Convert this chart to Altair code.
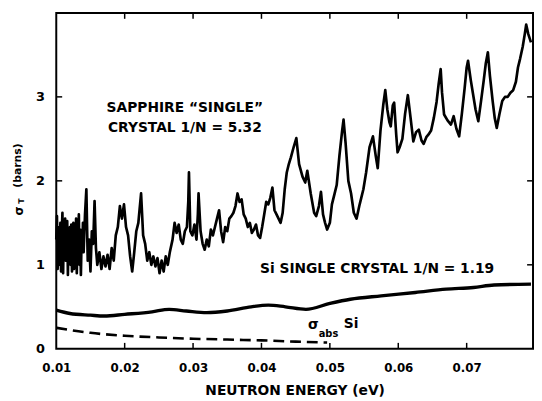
import altair as alt
import pandas as pd

# ---- data ----
sapphire_e = [0.0100,0.0101,0.0102,0.0103,0.0104,0.0105,0.0106,0.0107,0.0108,0.0109,
              0.0110,0.0111,0.0112,0.0113,0.0114,0.0115,0.0116,0.0117,0.0118,0.0119,
              0.0120,0.0121,0.0122,0.0123,0.0124,0.0125,0.0126,0.0127,0.0128,0.0129,
              0.0130,0.0131,0.0132,0.0133,0.0134,0.0135,0.0136,0.0137,0.0138,0.0139,
              0.0140,0.0142,0.0144,0.0146,0.0148,0.0150,0.0152,0.0154,0.0156,0.0158,
              0.0160,0.0163,0.0166,0.0169,0.0172,0.0175,0.0178,0.0181,0.0184,0.0187,
              0.0190,0.0193,0.0196,0.0199,0.0202,0.0205,0.0208,0.0211,0.0214,0.0217,
              0.0220,0.0224,0.0227,0.0230,0.0233,0.0236,0.0239,0.0242,0.0245,0.0248,
              0.0251,0.0254,0.0257,0.0260,0.0263,0.0266,0.0270,0.0273,0.0276,0.0279,
              0.0282,0.0285,0.0288,0.0291,0.0293,0.0294,0.0296,0.0299,0.0302,0.0305,
              0.0307,0.0308,0.0311,0.0314,0.0317,0.0320,0.0323,0.0326,0.0329,0.0332,
              0.0335,0.0338,0.0341,0.0344,0.0347,0.0350,0.0353,0.0356,0.0359,0.0362,
              0.0365,0.0368,0.0371,0.0374,0.0377,0.0380,0.0383,0.0386,0.0389,0.0392,
              0.0395,0.0398,0.0401,0.0404,0.0407,0.0410,0.0413,0.0416,0.0419,0.0422,
              0.0425,0.0428,0.0431,0.0434,0.0437,0.0440,0.0443,0.0447,0.0451,0.0455,
              0.0460,0.0464,0.0467,0.0472,0.0477,0.0480,0.0484,0.0487,0.0490,0.0493,
              0.0496,0.0500,0.0503,0.0507,0.0510,0.0514,0.0518,0.0520,0.0523,0.0527,
              0.0531,0.0535,0.0539,0.0543,0.0546,0.0549,0.0553,0.0558,0.0563,0.0567,
              0.0570,0.0574,0.0578,0.0581,0.0584,0.0587,0.0589,0.0592,0.0594,0.0597,
              0.0599,0.0602,0.0606,0.0610,0.0614,0.0618,0.0622,0.0626,0.0630,0.0634,
              0.0637,0.0641,0.0644,0.0648,0.0652,0.0656,0.0659,0.0662,0.0664,0.0667,
              0.0672,0.0677,0.0681,0.0685,0.0689,0.0693,0.0697,0.0700,0.0702,0.0706,
              0.0709,0.0713,0.0717,0.0721,0.0725,0.0728,0.0731,0.0734,0.0738,0.0741,
              0.0744,0.0748,0.0752,0.0756,0.0760,0.0764,0.0768,0.0772,0.0775,0.0778,
              0.0782,0.0785,0.0787,0.0790,0.0794]
sapphire_s = [1.30,1.58,0.95,1.45,1.20,1.00,1.50,0.92,1.35,1.62,
              0.90,1.40,1.10,1.55,1.05,1.28,1.52,0.88,1.35,1.10,
              1.45,1.00,1.48,0.92,1.30,1.50,0.95,1.38,1.12,1.55,
              0.90,1.38,1.20,1.60,1.00,1.42,0.88,1.30,1.15,1.50,
              1.15,1.60,1.90,1.05,1.30,0.92,1.40,1.25,1.76,1.20,
              1.00,1.15,0.95,1.10,0.98,1.12,0.95,1.20,1.05,1.35,
              1.45,1.70,1.55,1.72,1.45,1.35,1.10,0.92,1.15,1.40,
              1.50,1.85,1.35,1.25,1.05,1.15,1.00,1.10,0.98,1.08,
              0.90,1.05,0.92,1.10,1.00,1.15,1.30,1.50,1.38,1.48,
              1.30,1.25,1.40,1.45,1.75,2.10,1.40,1.35,1.48,1.30,
              1.60,1.85,1.40,1.25,1.18,1.30,1.22,1.42,1.35,1.45,
              1.55,1.65,1.40,1.27,1.45,1.40,1.55,1.58,1.62,1.70,
              1.85,1.75,1.78,1.60,1.55,1.45,1.50,1.38,1.42,1.48,
              1.35,1.32,1.45,1.60,1.75,1.72,1.80,1.92,1.65,1.60,
              1.55,1.50,1.62,1.90,2.10,2.20,2.28,2.40,2.51,2.20,
              2.05,1.98,2.12,1.85,1.62,1.58,1.70,1.87,1.60,1.50,
              1.42,1.50,1.72,1.85,1.95,2.30,2.60,2.73,2.45,2.00,
              1.85,1.62,1.55,1.70,1.80,1.90,2.10,2.40,2.53,2.30,
              2.15,2.60,2.90,3.08,2.85,2.70,2.65,2.90,2.93,2.55,
              2.34,2.40,2.50,2.80,3.02,2.75,2.47,2.58,2.61,2.48,
              2.44,2.52,2.55,2.60,2.75,2.94,3.15,3.33,3.05,2.79,
              2.72,2.67,2.77,2.62,2.53,2.80,3.10,3.35,3.43,3.20,
              3.05,2.85,2.71,2.95,3.20,3.40,3.53,3.25,2.95,2.75,
              2.63,2.80,2.95,3.00,3.00,3.05,3.08,3.18,3.35,3.45,
              3.60,3.75,3.86,3.75,3.65]

si_e = [0.0100,0.0120,0.0150,0.0170,0.0200,0.0240,0.0265,0.0290,0.0320,0.0350,
        0.0385,0.0410,0.0435,0.0465,0.0500,0.0530,0.0575,0.0625,0.0670,0.0710,
        0.0740,0.0794]
si_s = [0.46,0.42,0.40,0.39,0.41,0.44,0.47,0.45,0.43,0.45,
        0.50,0.52,0.50,0.47,0.54,0.59,0.63,0.67,0.71,0.73,
        0.76,0.77]

abs_e = [0.0100,0.0150,0.0200,0.0250,0.0300,0.0350,0.0400,0.0450,0.0496]
abs_s = [0.25,0.19,0.155,0.135,0.12,0.11,0.10,0.085,0.075]

x_ticks = [0.01, 0.02, 0.03, 0.04, 0.05, 0.06, 0.07]
x_minor = [0.02, 0.03, 0.04, 0.05, 0.06, 0.07]
y_ticks = [0, 1, 2, 3]
y_minor = [1, 2, 3]

labels_text = ["SAPPHIRE \u201cSINGLE\u201d", "CRYSTAL 1/N = 5.32", "Si SINGLE CRYSTAL 1/N = 1.19", "\u03c3", "Si"]
labels_e = [0.0288, 0.0288, 0.0569, 0.0476, 0.0531]
labels_s = [2.87, 2.63, 0.95, 0.28, 0.29]

FONT = "DejaVu Sans"
W, H = 484, 341

xs = alt.Scale(domain=[0.01, 0.0797], nice=False, zero=False)
ys = alt.Scale(domain=[0, 4], nice=False)

df_sap = pd.DataFrame({"e": sapphire_e, "s": sapphire_s})
df_si = pd.DataFrame({"e": si_e, "s": si_s})
df_abs = pd.DataFrame({"e": abs_e, "s": abs_s})
df_lab = pd.DataFrame({"e": labels_e, "s": labels_s, "t": labels_text})
df_sub = pd.DataFrame({"e": [0.0498], "s": [0.18], "t": ["abs"]})
df_xt = pd.DataFrame({"e": x_minor})
df_yt = pd.DataFrame({"s": y_minor})

x_enc = alt.X("e:Q", scale=xs,
              axis=alt.Axis(values=x_ticks, format=".2f", title="NEUTRON ENERGY (eV)",
                            titleFont=FONT, titleFontSize=14, titleFontWeight="bold",
                            titleY=46, titleBaseline="alphabetic", titleColor="black",
                            labelFont=FONT, labelFontSize=12, labelFontWeight="bold",
                            labelColor="black", labelPadding=14, labelFlush=False,
                            ticks=False, tickSize=0, domain=False, grid=False))
y_enc = alt.Y("s:Q", scale=ys,
              axis=alt.Axis(values=y_ticks, format="d", title=None, labelFont=FONT,
                            labelFontSize=13, labelFontWeight="bold", labelColor="black",
                            labelPadding=12, labelFlush=False,
                            ticks=False, tickSize=0, domain=False, grid=False))

sap = alt.Chart(df_sap).mark_line(color="black", strokeWidth=2.7, strokeJoin="round").encode(
    x=x_enc, y=y_enc)
si = alt.Chart(df_si).mark_line(color="black", strokeWidth=3.4, interpolate="monotone").encode(
    x=alt.X("e:Q", scale=xs), y=alt.Y("s:Q", scale=ys))
ab = alt.Chart(df_abs).mark_line(color="black", strokeWidth=2.6, strokeDash=[11, 6],
                                 interpolate="monotone").encode(
    x=alt.X("e:Q", scale=xs), y=alt.Y("s:Q", scale=ys))

txt = alt.Chart(df_lab).mark_text(font=FONT, fontSize=14, fontWeight="bold", color="black").encode(
    x=alt.X("e:Q", scale=xs), y=alt.Y("s:Q", scale=ys), text="t:N")
sub = alt.Chart(df_sub).mark_text(font=FONT, fontSize=10, fontWeight="bold", color="black").encode(
    x=alt.X("e:Q", scale=xs), y=alt.Y("s:Q", scale=ys), text="t:N")

# inward ticks
tb = alt.Chart(df_xt).mark_rule(color="black", strokeWidth=1.5).encode(
    x=alt.X("e:Q", scale=xs), y=alt.value(H), y2=alt.value(H - 6))
tt = alt.Chart(df_xt).mark_rule(color="black", strokeWidth=1.5).encode(
    x=alt.X("e:Q", scale=xs), y=alt.value(0), y2=alt.value(6))
tl = alt.Chart(df_yt).mark_rule(color="black", strokeWidth=1.5).encode(
    y=alt.Y("s:Q", scale=ys), x=alt.value(0), x2=alt.value(6))
tr = alt.Chart(df_yt).mark_rule(color="black", strokeWidth=1.5).encode(
    y=alt.Y("s:Q", scale=ys), x=alt.value(W), x2=alt.value(W - 6))

# y-axis title pieces (sigma with subscript T, then units)
ytitle1 = alt.Chart(pd.DataFrame({"t": ["\u03c3"]})).mark_text(
    font=FONT, fontSize=12, fontWeight="bold", angle=270, color="black").encode(
    x=alt.value(-38), y=alt.value(201), text="t:N")
ytitle2 = alt.Chart(pd.DataFrame({"t": ["T"]})).mark_text(
    font=FONT, fontSize=8, fontWeight="bold", angle=270, color="black").encode(
    x=alt.value(-35), y=alt.value(191), text="t:N")
ytitle3 = alt.Chart(pd.DataFrame({"t": ["(barns)"]})).mark_text(
    font=FONT, fontSize=11, fontWeight="bold", angle=270, color="black").encode(
    x=alt.value(-39), y=alt.value(155), text="t:N")

chart = alt.layer(sap, si, ab, txt, sub, tb, tt, tl, tr, ytitle1, ytitle2, ytitle3).properties(
    width=W, height=H,
    autosize=alt.AutoSizeParams(type="none"),
    padding={"left": 49, "top": 2, "right": 1, "bottom": 48},
    background="white",
).configure_view(stroke="black", strokeWidth=2)

chart.save("out.html", embed_options={"renderer": "svg", "actions": False})
